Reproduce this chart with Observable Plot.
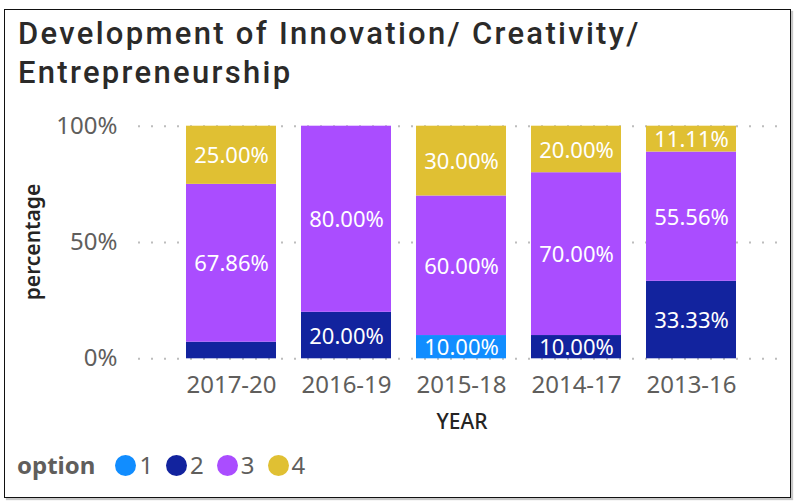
<!DOCTYPE html>
<html>
<head>
<meta charset="utf-8">
<script src="https://cdn.jsdelivr.net/npm/d3@7"></script>
<script src="https://cdn.jsdelivr.net/npm/@observablehq/plot@0.6"></script>
<style>
  html, body { margin: 0; padding: 0; background: #fff; }
  body { width: 794px; height: 502px; position: relative; overflow: hidden; font-family: "Noto Sans", sans-serif; }
  #frame { position: absolute; left: 4px; top: 9px; width: 785px; height: 487px; border: 1.5px solid #111; box-shadow: 2px 2px 1px #c8c8c8; }
  #title { position: absolute; left: 18px; top: 13.6px; font-family: Roboto, sans-serif; font-weight: 500; font-size: 31px; letter-spacing: 2.3px; line-height: 39.5px; color: #2b2a29; white-space: nowrap; }
  #chart { position: absolute; left: 0; top: 100px; }
  #ylabel { position: absolute; left: 32px; top: 242px; transform: translate(-50%, -50%) rotate(-90deg); font-size: 21px; font-weight: 600; color: #252423; white-space: nowrap; line-height: 1; }
  #xlabel { position: absolute; left: 462px; top: 411px; transform: translateX(-50%); font-size: 21px; font-weight: 500; color: #252423; line-height: 1; }
  #legend { position: absolute; left: 17px; top: 450px; height: 30px; display: flex; align-items: center; font-size: 24px; line-height: 30px; color: #605E5C; }
  #legend .head { font-weight: 700; margin-right: 20px; }
  #legend .sw { width: 21px; height: 21px; border-radius: 50%; margin-right: 3px; }
  #legend .lb { margin-right: 13px; }
</style>
</head>
<body>
<div id="frame"></div>
<div id="title">Development of Innovation/ Creativity/<br>Entrepreneurship</div>
<div id="chart"></div>
<div id="ylabel">percentage</div>
<div id="xlabel">YEAR</div>
<div id="legend"></div>
<script>
const years = ["2017-20", "2016-19", "2015-18", "2014-17", "2013-16"];
const options = ["1", "2", "3", "4"];
const option1 = [0, 0, 10, 0, 0];
const option2 = [7.14, 20, 0, 10, 33.33];
const option3 = [67.86, 80, 60, 70, 55.56];
const option4 = [25, 0, 30, 20, 11.11];
const colors = ["#118DFF", "#12239E", "#AA4DFF", "#E0C033"];
const yTicks = [0, 50, 100];

const series = [option1, option2, option3, option4];
const rows = [];
years.forEach((year, i) => {
  options.forEach((opt, j) => {
    rows.push({year, option: opt, value: series[j][i]});
  });
});

const chart = Plot.plot({
  width: 794,
  height: 340,
  marginTop: 25.7,
  marginBottom: 81.7,
  marginLeft: 138,
  marginRight: 9,
  style: {fontFamily: "Noto Sans, sans-serif", background: "transparent"},
  x: {domain: years, paddingInner: 0.22, paddingOuter: 0.11, insetLeft: 34, insetRight: 35, label: null},
  y: {domain: [0, 100], label: null},
  color: {domain: options, range: colors},
  marks: [
    Plot.gridY(yTicks, {stroke: "#bdbdbd", strokeOpacity: 1, strokeWidth: 2, strokeDasharray: "2 11"}),
    Plot.barY(rows, Plot.stackY({x: "year", y: "value", fill: "option", order: null})),
    Plot.text(rows, Plot.stackY({
      x: "year", y: "value", z: "option", order: null,
      text: d => d.value >= 10 ? d.value.toFixed(2) + "%" : "",
      fill: "white", fontSize: 22, dy: 1
    })),
    Plot.axisX({tickSize: 0, tickPadding: 17, fontSize: 24, color: "#605E5C", label: null}),
    Plot.axisY({ticks: yTicks, tickFormat: d => d + "%", tickSize: 0, tickPadding: 21, fontSize: 24, color: "#605E5C", label: null})
  ]
});
document.getElementById("chart").appendChild(chart);

const legend = document.getElementById("legend");
const head = document.createElement("span");
head.className = "head";
head.textContent = "option";
legend.appendChild(head);
options.forEach((opt, i) => {
  const sw = document.createElement("span");
  sw.className = "sw";
  sw.style.background = colors[i];
  legend.appendChild(sw);
  const lb = document.createElement("span");
  lb.className = "lb";
  lb.textContent = opt;
  legend.appendChild(lb);
});
</script>
</body>
</html>
